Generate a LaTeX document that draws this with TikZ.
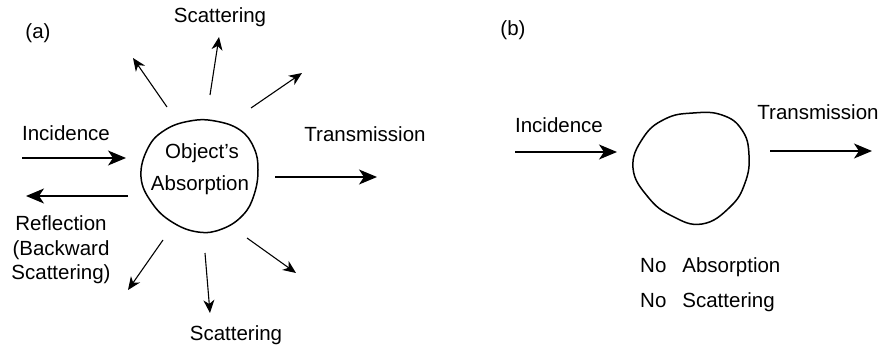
\documentclass[tikz,border=0pt]{standalone}
\usepackage{fontspec}
\setmainfont{Liberation Sans}
\usetikzlibrary{arrows.meta}
\begin{document}
\begin{tikzpicture}[x=1pt,y=-1pt,
  lbl/.style={font=\fontsize{20.5}{24}\selectfont, inner sep=0pt},
  bigarrow/.style={line width=1.5pt, -{Stealth[length=18pt,width=15pt,inset=5pt]}},
  scatarrow/.style={line width=1.1pt, -{Stealth[length=13pt,width=11pt,inset=4pt]}},
  blob/.style={line width=1.5pt}]
\useasboundingbox (0,0) rectangle (884,350);
% ---------- panel (a) ----------
\node[lbl] (la) at (38,33) {(a)};
\draw[blob] plot[smooth cycle, tension=0.7] coordinates {(141,177) (148,148) (165,130) (190,121) (215,121) (240,130) (254,148) (258,170) (254,195) (243,215) (222,229) (198,232) (172,222) (152,203)};
\node[lbl] (obj) at (202,153) {Object's};
\node[lbl] (abs) at (200,185) {Absorption};
\node[lbl] (scatTop) at (220,17) {Scattering};
\node[lbl] (incA) at (66,133) {Incidence};
\node[lbl] (trA) at (365,134) {Transmission};
\node[lbl, align=center, font=\fontsize{20.5}{24.5}\selectfont] (refl) at (61,250) {Reflection\\(Backward\\Scattering)};
\node[lbl] (scatBot) at (236,335) {Scattering};
% arrow ends
\coordinate (iA1) at (22,158); \coordinate (iA2) at (126,158);
\coordinate (tA1) at (275,177); \coordinate (tA2) at (377,177);
\coordinate (rA1) at (128,196); \coordinate (rA2) at (26,196);
\coordinate (s1a) at (210,95);  \coordinate (s1b) at (219,37);
\coordinate (s2a) at (167,107); \coordinate (s2b) at (133,58);
\coordinate (s3a) at (251,108); \coordinate (s3b) at (302,73);
\coordinate (s4a) at (163,240); \coordinate (s4b) at (128,290);
\coordinate (s5a) at (205,253); \coordinate (s5b) at (210,313);
\coordinate (s6a) at (247,238); \coordinate (s6b) at (296,273);
\draw[bigarrow] (iA1) -- (iA2);
\draw[bigarrow] (tA1) -- (tA2);
\draw[bigarrow] (rA1) -- (rA2);
\draw[scatarrow] (s1a) -- (s1b);
\draw[scatarrow] (s2a) -- (s2b);
\draw[scatarrow] (s3a) -- (s3b);
\draw[scatarrow] (s4a) -- (s4b);
\draw[scatarrow] (s5a) -- (s5b);
\draw[scatarrow] (s6a) -- (s6b);
% ---------- panel (b) ----------
\node[lbl] (lb) at (513,30) {(b)};
\draw[blob] plot[smooth cycle, tension=0.75] coordinates {(633,168) (643,138) (665,119) (693,113) (722,115) (742,130) (749,155) (745,183) (730,207) (702,224) (672,216) (648,197)};
\node[lbl] (incB) at (559,125) {Incidence};
\node[lbl] (trB) at (818,112) {Transmission};
\node[lbl, anchor=west] (noAbs) at (640,267) {No\hspace{16pt}Absorption};
\node[lbl, anchor=west] (noSca) at (640,302) {No\hspace{16pt}Scattering};
\coordinate (iB1) at (515,152); \coordinate (iB2) at (617,152);
\coordinate (tB1) at (770,151); \coordinate (tB2) at (872,151);
\draw[bigarrow] (iB1) -- (iB2);
\draw[bigarrow] (tB1) -- (tB2);
\end{tikzpicture}
\end{document}
